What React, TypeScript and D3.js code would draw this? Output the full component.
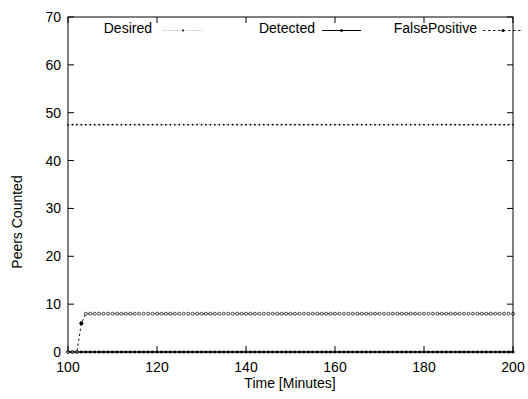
import React from "react";
import * as d3 from "d3";

const times = [
  100, 101, 102, 103, 104, 105, 106, 107, 108, 109,
  110, 111, 112, 113, 114, 115, 116, 117, 118, 119,
  120, 121, 122, 123, 124, 125, 126, 127, 128, 129,
  130, 131, 132, 133, 134, 135, 136, 137, 138, 139,
  140, 141, 142, 143, 144, 145, 146, 147, 148, 149,
  150, 151, 152, 153, 154, 155, 156, 157, 158, 159,
  160, 161, 162, 163, 164, 165, 166, 167, 168, 169,
  170, 171, 172, 173, 174, 175, 176, 177, 178, 179,
  180, 181, 182, 183, 184, 185, 186, 187, 188, 189,
  190, 191, 192, 193, 194, 195, 196, 197, 198, 199,
  200,
];

const desired = [
  47.5, 47.5, 47.5, 47.5, 47.5, 47.5, 47.5, 47.5, 47.5, 47.5,
  47.5, 47.5, 47.5, 47.5, 47.5, 47.5, 47.5, 47.5, 47.5, 47.5,
  47.5, 47.5, 47.5, 47.5, 47.5, 47.5, 47.5, 47.5, 47.5, 47.5,
  47.5, 47.5, 47.5, 47.5, 47.5, 47.5, 47.5, 47.5, 47.5, 47.5,
  47.5, 47.5, 47.5, 47.5, 47.5, 47.5, 47.5, 47.5, 47.5, 47.5,
  47.5, 47.5, 47.5, 47.5, 47.5, 47.5, 47.5, 47.5, 47.5, 47.5,
  47.5, 47.5, 47.5, 47.5, 47.5, 47.5, 47.5, 47.5, 47.5, 47.5,
  47.5, 47.5, 47.5, 47.5, 47.5, 47.5, 47.5, 47.5, 47.5, 47.5,
  47.5, 47.5, 47.5, 47.5, 47.5, 47.5, 47.5, 47.5, 47.5, 47.5,
  47.5, 47.5, 47.5, 47.5, 47.5, 47.5, 47.5, 47.5, 47.5, 47.5,
  47.5,
];

const detected = [
  0, 0, 0, 0, 0, 0, 0, 0, 0, 0,
  0, 0, 0, 0, 0, 0, 0, 0, 0, 0,
  0, 0, 0, 0, 0, 0, 0, 0, 0, 0,
  0, 0, 0, 0, 0, 0, 0, 0, 0, 0,
  0, 0, 0, 0, 0, 0, 0, 0, 0, 0,
  0, 0, 0, 0, 0, 0, 0, 0, 0, 0,
  0, 0, 0, 0, 0, 0, 0, 0, 0, 0,
  0, 0, 0, 0, 0, 0, 0, 0, 0, 0,
  0, 0, 0, 0, 0, 0, 0, 0, 0, 0,
  0, 0, 0, 0, 0, 0, 0, 0, 0, 0,
  0,
];

const falsePositive = [
  0, 0, 0, 6, 8, 8, 8, 8, 8, 8,
  8, 8, 8, 8, 8, 8, 8, 8, 8, 8,
  8, 8, 8, 8, 8, 8, 8, 8, 8, 8,
  8, 8, 8, 8, 8, 8, 8, 8, 8, 8,
  8, 8, 8, 8, 8, 8, 8, 8, 8, 8,
  8, 8, 8, 8, 8, 8, 8, 8, 8, 8,
  8, 8, 8, 8, 8, 8, 8, 8, 8, 8,
  8, 8, 8, 8, 8, 8, 8, 8, 8, 8,
  8, 8, 8, 8, 8, 8, 8, 8, 8, 8,
  8, 8, 8, 8, 8, 8, 8, 8, 8, 8,
  8,
];

const xTicks = [100, 120, 140, 160, 180, 200];
const yTicks = [0, 10, 20, 30, 40, 50, 60, 70];
const seriesNames = ["Desired", "Detected", "FalsePositive"];

const W = 528;
const H = 399;
const L = 68;
const R = 513;
const T = 17;
const B = 352;
const FONT = "'Liberation Sans', Arial, Helvetica, sans-serif";

export default function App() {
  const x = d3.scaleLinear().domain([100, 200]).range([L, R]);
  const y = d3.scaleLinear().domain([0, 70]).range([B, T]);
  const line = (vals: number[]) =>
    d3
      .line<number>()
      .x((_, i) => x(times[i]))
      .y((v) => y(v))(vals) || "";

  const legendX = [152, 315, 477];
  const legendY = 33;
  const sampleY = 30.5;

  return (
    <svg
      width={W}
      height={H}
      style={{ position: "absolute", left: 0, top: 0, background: "#fff" }}
      fontFamily={FONT}
    >
      <rect x={0} y={0} width={W} height={H} fill="#fff" />
      {xTicks.map((t) => (
        <g key={"xt" + t}>
          <line x1={x(t)} x2={x(t)} y1={B} y2={B - 6} stroke="#000" strokeWidth={1} />
          <line x1={x(t)} x2={x(t)} y1={T} y2={T + 6} stroke="#000" strokeWidth={1} />
          <text x={x(t)} y={372} textAnchor="middle" fontSize={14} fill="#000">
            {t}
          </text>
        </g>
      ))}
      {yTicks.map((t) => (
        <g key={"yt" + t}>
          <line x1={L} x2={L + 6} y1={y(t)} y2={y(t)} stroke="#000" strokeWidth={1} />
          <line x1={R} x2={R - 6} y1={y(t)} y2={y(t)} stroke="#000" strokeWidth={1} />
          <text x={61} y={y(t) + 5} textAnchor="end" fontSize={14} fill="#000">
            {t}
          </text>
        </g>
      ))}

      {/* Desired */}
      <path d={line(desired)} fill="none" stroke="#555" strokeWidth={0.6} strokeDasharray="0.6,1.2" />
      {desired.map((v, i) => (
        <circle key={"d" + i} cx={x(times[i])} cy={y(v)} r={0.9} fill="#000" />
      ))}

      {/* Detected */}
      <path d={line(detected)} fill="none" stroke="#000" strokeWidth={1} />
      {detected.map((v, i) => (
        <rect key={"de" + i} x={x(times[i]) - 1.3} y={y(v) - 1.3} width={2.6} height={2.6} fill="#000" />
      ))}

      {/* FalsePositive */}
      <path d={line(falsePositive)} fill="none" stroke="#000" strokeWidth={0.9} strokeDasharray="2.5,2.5" />
      {falsePositive.map((v, i) =>
        i === 3 ? (
          <circle key={"fp" + i} cx={x(times[i])} cy={y(v)} r={2} fill="#000" />
        ) : (
          <circle key={"fp" + i} cx={x(times[i])} cy={y(v)} r={1.5} fill="#fff" stroke="#000" strokeWidth={0.7} />
        )
      )}

      {/* border */}
      <rect x={L} y={T} width={R - L} height={B - T} fill="none" stroke="#000" strokeWidth={1} />

      {/* legend */}
      {seriesNames.map((n, i) => (
        <text key={n} x={legendX[i]} y={legendY} textAnchor="end" fontSize={14} fill="#000">
          {n}
        </text>
      ))}
      <line x1={163} x2={202} y1={sampleY} y2={sampleY} stroke="#555" strokeWidth={0.6} strokeDasharray="0.6,1.2" />
      <circle cx={183} cy={sampleY} r={1} fill="#000" />
      <line x1={322} x2={361} y1={sampleY} y2={sampleY} stroke="#000" strokeWidth={1} />
      <rect x={341.5 - 1.2} y={sampleY - 1.2} width={2.4} height={2.4} fill="#000" />
      <line x1={483} x2={523} y1={sampleY} y2={sampleY} stroke="#000" strokeWidth={0.9} strokeDasharray="2.5,2.5" />
      <circle cx={503} cy={sampleY} r={1.5} fill="#000" />

      {/* axis titles */}
      <text x={290} y={388} textAnchor="middle" fontSize={14} fill="#000">
        Time [Minutes]
      </text>
      <text transform={`translate(22,222) rotate(-90)`} textAnchor="middle" fontSize={14} fill="#000">
        Peers Counted
      </text>
    </svg>
  );
}
